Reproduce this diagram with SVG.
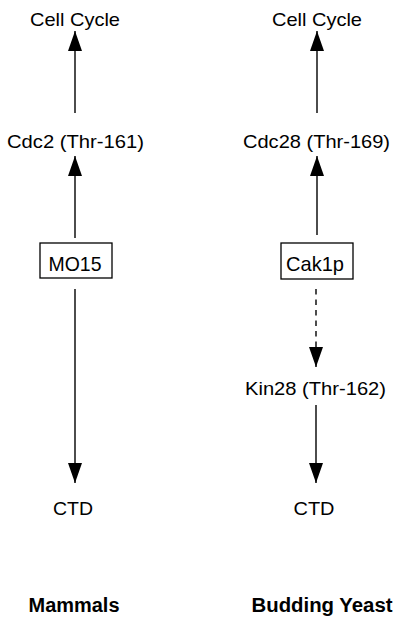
<svg xmlns="http://www.w3.org/2000/svg" width="400" height="624" viewBox="0 0 400 624">
<style>
  text { font-family: "Liberation Sans", Arial, sans-serif; font-size: 19px; fill: #000; text-anchor: middle; }
  text.b { font-weight: bold; font-size: 19.5px; }
  text.k { font-size: 21px; }
  .c { stroke: #000; stroke-width: 1.4; fill: none; }
  .d { stroke-dasharray: 5.5 5; }
  rect.box { fill: #fff; stroke: #000; stroke-width: 1.3; }
</style>
<defs>
  <marker id="ah" markerUnits="userSpaceOnUse" markerWidth="20" markerHeight="14" refX="20" refY="7" orient="auto">
    <path d="M0,0 L20,7 L0,14 z" fill="#000"/>
  </marker>
</defs>
<rect width="400" height="624" fill="#fff"/>
<g id="connectors">
  <line class="c" x1="75" y1="113" x2="75" y2="31" marker-end="url(#ah)"/>
  <line class="c" x1="75" y1="238" x2="75" y2="156" marker-end="url(#ah)"/>
  <line class="c" x1="75" y1="289" x2="75" y2="483" marker-end="url(#ah)"/>
  <line class="c" x1="317" y1="113" x2="317" y2="31" marker-end="url(#ah)"/>
  <line class="c" x1="317" y1="235" x2="317" y2="156" marker-end="url(#ah)"/>
  <line class="c d" x1="316" y1="289" x2="316" y2="367" marker-end="url(#ah)"/>
  <line class="c" x1="316" y1="405" x2="316" y2="483" marker-end="url(#ah)"/>
</g>
<g id="cellcycle-m"><text x="75" y="26" textLength="90" lengthAdjust="spacingAndGlyphs">Cell Cycle</text></g>
<g id="cdc2"><text x="75.5" y="148" textLength="137" lengthAdjust="spacingAndGlyphs">Cdc2 (Thr-161)</text></g>
<g id="mo15"><rect class="box" x="40" y="243" width="72" height="35"/><text class="k" x="75" y="271" textLength="53" lengthAdjust="spacingAndGlyphs">MO15</text></g>
<g id="ctd-m"><text x="73" y="515" textLength="40" lengthAdjust="spacingAndGlyphs">CTD</text></g>
<g id="mammals"><text class="b" x="74" y="612" textLength="91" lengthAdjust="spacingAndGlyphs">Mammals</text></g>
<g id="cellcycle-y"><text x="317" y="26" textLength="90" lengthAdjust="spacingAndGlyphs">Cell Cycle</text></g>
<g id="cdc28"><text x="316.5" y="148" textLength="147" lengthAdjust="spacingAndGlyphs">Cdc28 (Thr-169)</text></g>
<g id="cak1p"><rect class="box" x="281" y="243" width="72" height="36"/><text class="k" x="315" y="271" textLength="58" lengthAdjust="spacingAndGlyphs">Cak1p</text></g>
<g id="kin28"><text x="315.5" y="395" textLength="141" lengthAdjust="spacingAndGlyphs">Kin28 (Thr-162)</text></g>
<g id="ctd-y"><text x="314" y="515" textLength="41" lengthAdjust="spacingAndGlyphs">CTD</text></g>
<g id="budding"><text class="b" x="322" y="612" textLength="141" lengthAdjust="spacingAndGlyphs">Budding Yeast</text></g>
</svg>
